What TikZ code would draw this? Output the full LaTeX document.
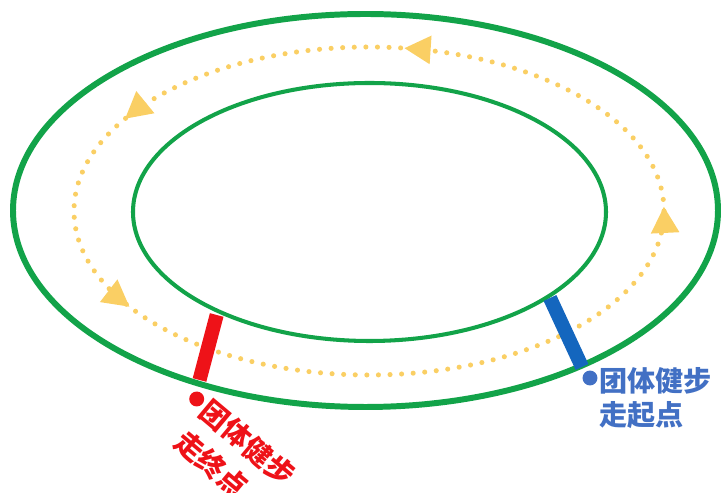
\documentclass[tikz,border=0pt]{standalone}
\usepackage{fontspec}
\newfontfamily\cjk{Noto Sans CJK SC}
\usepackage{tikz}
\usetikzlibrary{arrows.meta,calc,positioning,decorations.markings}
\definecolor{trackgreen}{RGB}{18,163,73}
\definecolor{dotyellow}{RGB}{250,207,100}
\definecolor{startblue}{RGB}{20,102,190}
\definecolor{labelblue}{RGB}{66,112,196}
\definecolor{endred}{RGB}{238,18,24}

\begin{document}
\begin{tikzpicture}[x=0.02cm,y=0.02cm,>=Latex,
  bar/.style={line width=8pt},
  spot/.style={circle,inner sep=0pt,minimum size=8.5pt},
  tag/.style={inner sep=0pt,align=left}]
  \useasboundingbox (0,0) rectangle (721,493);
  % track
  \draw[trackgreen,line width=3.4pt] (365.5,282.5) ellipse (352.5 and 196.5);
  \draw[trackgreen,line width=2.3pt] (369.5,281) ellipse (236.5 and 129);
  % walking route
  \draw[dotyellow,line width=2.9pt,line cap=round,dash pattern=on 0pt off 6.6pt,
    decoration={markings,
      mark=at position 0.003 with {\arrow{Triangle[length=15pt,width=15.5pt]}},
      mark=at position 0.226 with {\arrow{Triangle[length=15pt,width=15.5pt]}},
      mark=at position 0.426 with {\arrow{Triangle[length=15pt,width=15.5pt]}},
      mark=at position 0.578 with {\arrow{Triangle[length=15pt,width=15.5pt]}}},
    postaction={decorate}] (369,282) ellipse (295 and 164);
  % start and finish
  \coordinate (endin) at (216.7,178);
  \coordinate (endout) at (199.5,113);
  \coordinate (startin) at (550,195);
  \coordinate (startout) at (582,126);
  \draw[bar,endred] (endin) -- (endout);
  \draw[bar,startblue] (startin) -- (startout);
  \node[spot,fill=endred] (enddot) at (196.7,94) {};
  \node[spot,fill=labelblue] (startdot) at (590,115) {};
  \node[tag,labelblue,anchor=north west,font=\cjk\bfseries\fontsize{16}{19.5}\selectfont] (starttag) at (599,126) {团体健步\\走起点};
  \node[tag,endred,anchor=north west,rotate=-40,font=\cjk\bfseries\fontsize{16}{22.5}\selectfont] (endtag) at (213,97) {团体健步\\走终点};
\end{tikzpicture}
\end{document}
